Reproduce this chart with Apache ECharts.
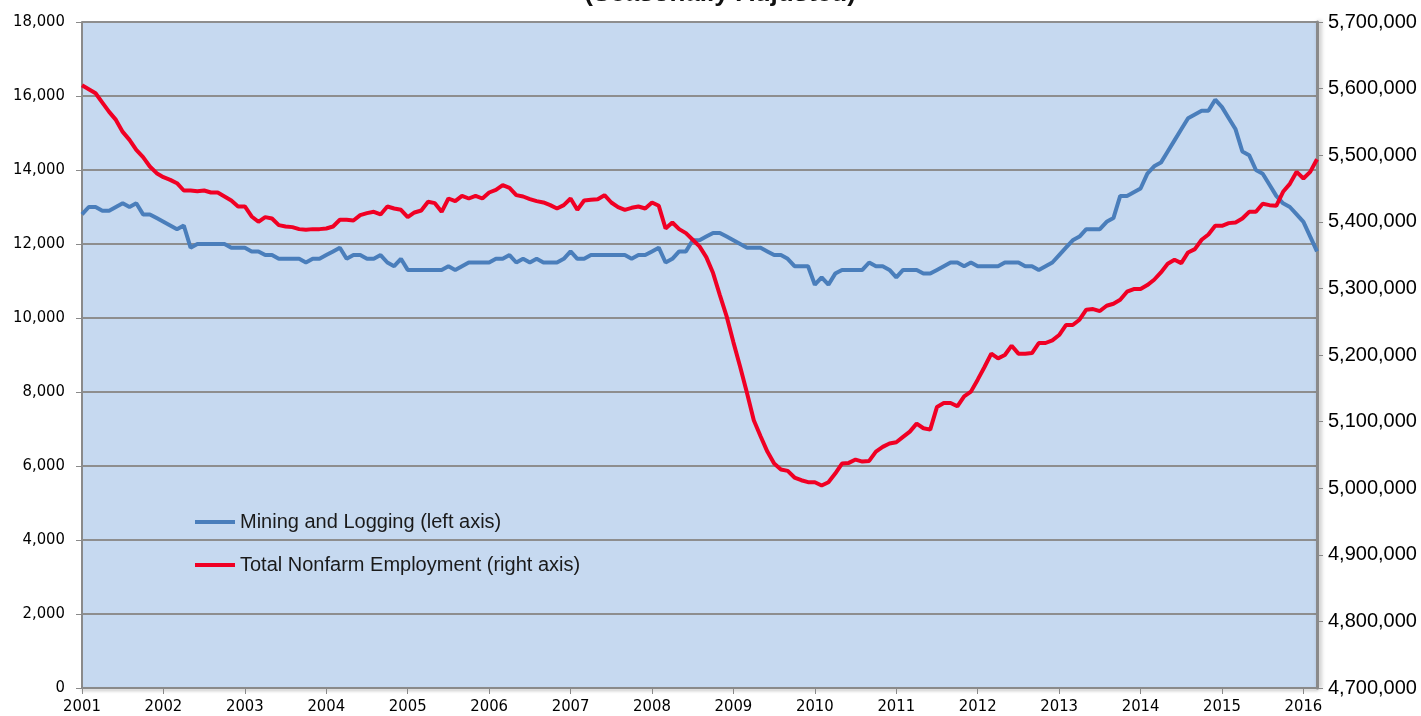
<!DOCTYPE html>
<html>
<head>
<meta charset="utf-8">
<script src="https://cdn.jsdelivr.net/npm/echarts@6/dist/echarts.min.js"></script>
<style>
  html, body { margin: 0; padding: 0; background: #ffffff; }
  #chart { width: 1421px; height: 716px; }
</style>
</head>
<body>
<div id="chart"></div>
<script>
// ---- Data (monthly, Jan 2001 – Mar 2016) ----
const years = ['2001','2002','2003','2004','2005','2006','2007','2008','2009','2010','2011','2012','2013','2014','2015','2016'];
const monthNames = ['Jan','Feb','Mar','Apr','May','Jun','Jul','Aug','Sep','Oct','Nov','Dec'];

const seriesNames = ['Mining and Logging (left axis)', 'Total Nonfarm Employment (right axis)'];

const miningLogging = [
  12800, 13000, 13000, 12900, 12900, 13000, 13100, 13000, 13100, 12800, 12800, 12700, // 2001
  12600, 12500, 12400, 12500, 11900, 12000, 12000, 12000, 12000, 12000, 11900, 11900, // 2002
  11900, 11800, 11800, 11700, 11700, 11600, 11600, 11600, 11600, 11500, 11600, 11600, // 2003
  11700, 11800, 11900, 11600, 11700, 11700, 11600, 11600, 11700, 11500, 11400, 11600, // 2004
  11300, 11300, 11300, 11300, 11300, 11300, 11400, 11300, 11400, 11500, 11500, 11500, // 2005
  11500, 11600, 11600, 11700, 11500, 11600, 11500, 11600, 11500, 11500, 11500, 11600, // 2006
  11800, 11600, 11600, 11700, 11700, 11700, 11700, 11700, 11700, 11600, 11700, 11700, // 2007
  11800, 11900, 11500, 11600, 11800, 11800, 12100, 12100, 12200, 12300, 12300, 12200, // 2008
  12100, 12000, 11900, 11900, 11900, 11800, 11700, 11700, 11600, 11400, 11400, 11400, // 2009
  10900, 11100, 10900, 11200, 11300, 11300, 11300, 11300, 11500, 11400, 11400, 11300, // 2010
  11100, 11300, 11300, 11300, 11200, 11200, 11300, 11400, 11500, 11500, 11400, 11500, // 2011
  11400, 11400, 11400, 11400, 11500, 11500, 11500, 11400, 11400, 11300, 11400, 11500, // 2012
  11700, 11900, 12100, 12200, 12400, 12400, 12400, 12600, 12700, 13300, 13300, 13400, // 2013
  13500, 13900, 14100, 14200, 14500, 14800, 15100, 15400, 15500, 15600, 15600, 15900, // 2014
  15700, 15400, 15100, 14500, 14400, 14000, 13900, 13600, 13300, 13100, 13000, 12800, // 2015
  12600, 12200, 11800                                                                 // 2016
];

const totalNonfarm = [
  5605000, 5599000, 5593000, 5579000, 5565000, 5553000, 5535000, 5523000, 5508000, 5497000, 5483000, 5473000, // 2001
  5467000, 5463000, 5458000, 5447000, 5447000, 5446000, 5447000, 5444000, 5444000, 5438000, 5432000, 5423000, // 2002
  5423000, 5408000, 5400000, 5407000, 5405000, 5395000, 5393000, 5392000, 5389000, 5388000, 5389000, 5389000, // 2003
  5390000, 5393000, 5403000, 5403000, 5402000, 5410000, 5413000, 5415000, 5411000, 5423000, 5420000, 5418000, // 2004
  5407000, 5414000, 5417000, 5430000, 5428000, 5415000, 5435000, 5431000, 5439000, 5435000, 5439000, 5435000, // 2005
  5444000, 5448000, 5455000, 5451000, 5440000, 5438000, 5434000, 5431000, 5429000, 5425000, 5420000, 5425000, // 2006
  5435000, 5418000, 5432000, 5433000, 5434000, 5440000, 5429000, 5422000, 5418000, 5421000, 5423000, 5420000, // 2007
  5429000, 5424000, 5390000, 5399000, 5389000, 5383000, 5373000, 5363000, 5347000, 5323000, 5290000, 5258000, // 2008
  5219000, 5182000, 5143000, 5102000, 5078000, 5055000, 5037000, 5028000, 5026000, 5016000, 5012000, 5009000, // 2009
  5009000, 5004000, 5009000, 5022000, 5037000, 5038000, 5043000, 5040000, 5041000, 5055000, 5062000, 5067000, // 2010
  5069000, 5077000, 5085000, 5097000, 5090000, 5088000, 5122000, 5128000, 5128000, 5123000, 5138000, 5145000, // 2011
  5163000, 5182000, 5202000, 5195000, 5200000, 5214000, 5202000, 5202000, 5203000, 5218000, 5218000, 5222000, // 2012
  5230000, 5245000, 5245000, 5253000, 5268000, 5269000, 5266000, 5274000, 5277000, 5283000, 5295000, 5299000, // 2013
  5299000, 5305000, 5313000, 5324000, 5337000, 5343000, 5338000, 5354000, 5359000, 5373000, 5381000, 5394000, // 2014
  5394000, 5398000, 5399000, 5405000, 5415000, 5415000, 5427000, 5425000, 5424000, 5445000, 5457000, 5475000, // 2015
  5465000, 5475000, 5494000                                                                                   // 2016
];

// Category labels (one per month)
const categories = [];
years.forEach(y => monthNames.forEach(m => categories.push(m + ' ' + y)));
categories.length = miningLogging.length;

const fmt = v => Number(v).toLocaleString('en-US');
const narrow = '"Liberation Sans Narrow", "Arial Narrow", "DejaVu Sans Condensed", sans-serif';
const regular = '"Liberation Sans", Arial, Helvetica, sans-serif';
const axisGray = '#8a8a8a';

const chart = echarts.init(document.getElementById('chart'), null, { renderer: 'canvas' });
chart.setOption({
  animation: false,
  backgroundColor: '#ffffff',
  graphic: [{
    type: 'text',
    x: 720, y: 7,
    style: {
      text: '(Seasonally Adjusted)',
      align: 'center',
      verticalAlign: 'bottom',
      font: 'bold 26px ' + regular,
      fill: '#111'
    }
  }],
  grid: {
    left: 82, right: 104, top: 22, bottom: 28,
    show: true, backgroundColor: '#C6D9F0', borderWidth: 0
  },
  legend: {
    orient: 'vertical',
    left: 190, top: 506,
    itemWidth: 40, itemHeight: 4, itemGap: 21,
    icon: 'rect',
    textStyle: { fontFamily: regular, fontSize: 20, color: '#1a1a1a', lineHeight: 22 },
    data: seriesNames
  },
  xAxis: {
    type: 'category',
    data: categories,
    boundaryGap: false,
    axisLine: { lineStyle: { color: axisGray, width: 2, shadowColor: 'rgba(0,0,0,0.25)', shadowBlur: 3, shadowOffsetY: 2 } },
    axisTick: { show: true, inside: false, length: 6, interval: (i) => i % 12 === 0, lineStyle: { color: axisGray, width: 1 } },
    axisLabel: {
      interval: (i) => i % 12 === 0,
      formatter: v => v.slice(-4),
      margin: 10,
      fontFamily: narrow, fontSize: 16.5, color: '#000'
    },
    splitLine: { show: false }
  },
  yAxis: [{
    type: 'value',
    min: 0, max: 18000, interval: 2000,
    position: 'left',
    axisLine: { show: true, lineStyle: { color: axisGray, width: 2 } },
    axisTick: { show: true, length: 6, lineStyle: { color: axisGray } },
    axisLabel: { formatter: fmt, margin: 17, fontFamily: narrow, fontSize: 16.5, color: '#000' },
    splitLine: { show: true, lineStyle: { color: '#8e8e8e', width: 2 } }
  }, {
    type: 'value',
    min: 4700000, max: 5700000, interval: 100000,
    position: 'right',
    axisLine: { show: true, lineStyle: { color: axisGray, width: 3, shadowColor: 'rgba(0,0,0,0.3)', shadowBlur: 4, shadowOffsetX: 2 } },
    axisTick: { show: true, length: 6, lineStyle: { color: axisGray } },
    axisLabel: { formatter: fmt, margin: 11, fontFamily: regular, fontSize: 20, color: '#000' },
    splitLine: { show: false }
  }],
  series: [{
    name: seriesNames[0],
    type: 'line',
    yAxisIndex: 0,
    data: miningLogging,
    symbol: 'none',
    lineStyle: { color: '#4A7EBB', width: 4 },
    itemStyle: { color: '#4A7EBB' }
  }, {
    name: seriesNames[1],
    type: 'line',
    yAxisIndex: 1,
    data: totalNonfarm,
    symbol: 'none',
    lineStyle: { color: '#F00024', width: 4 },
    itemStyle: { color: '#F00024' }
  }]
});
</script>
</body>
</html>
